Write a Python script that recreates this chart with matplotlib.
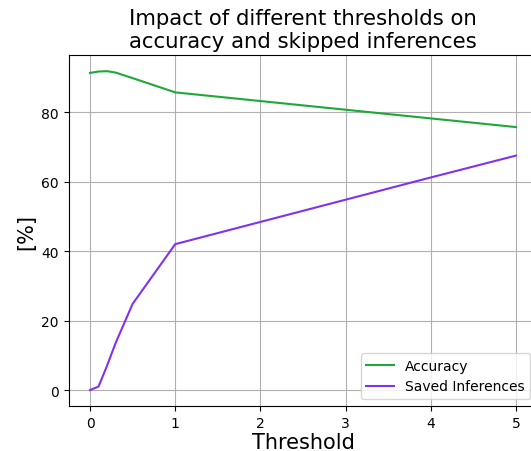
import numpy as np
import matplotlib
matplotlib.use('Agg')
import matplotlib.pyplot as plt

# thresholds and the two curves (in %)
thresholds = [0, 0.1, 0.2, 0.3, 0.5, 1, 2, 3, 4, 5]
accuracy = [91.3, 91.7, 91.8, 91.4, 89.8, 85.7, 83.2, 80.7, 78.2, 75.7]
saved = [0.0, 1.0, 7.0, 13.5, 24.8, 42.0, 48.4, 54.8, 61.2, 67.5]

fig = plt.figure(figsize=(5.31, 4.52), dpi=100)
ax = fig.add_axes([0.1294, 0.0996, 0.8825, 0.776])

ax.plot(thresholds, accuracy, color='#1fa83a', label='Accuracy')
ax.plot(thresholds, saved, color='#8033ef', label='Saved Inferences')

ax.grid(True)
ax.legend(loc='lower right')

ax.set_xlabel('Threshold', fontsize=15, labelpad=1.5)
ax.set_ylabel('[%]', fontsize=15)
ax.set_title('Impact of different thresholds on\naccuracy and skipped inferences', fontsize=15.3)

fig.savefig('out.png', dpi=100)
